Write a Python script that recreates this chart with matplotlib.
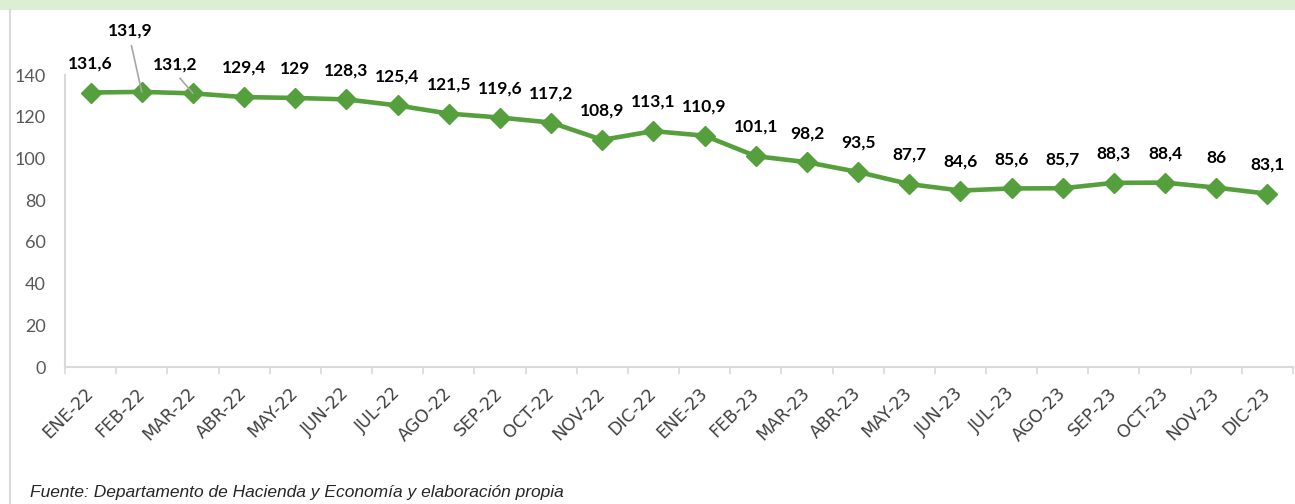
import matplotlib
matplotlib.use("Agg")
import matplotlib.pyplot as plt
from matplotlib.patches import Rectangle
from matplotlib.lines import Line2D

# month labels and index values
months = ["ENE-22", "FEB-22", "MAR-22", "ABR-22", "MAY-22", "JUN-22", "JUL-22", "AGO-22",
          "SEP-22", "OCT-22", "NOV-22", "DIC-22", "ENE-23", "FEB-23", "MAR-23", "ABR-23",
          "MAY-23", "JUN-23", "JUL-23", "AGO-23", "SEP-23", "OCT-23", "NOV-23", "DIC-23"]
values = [131.6, 131.9, 131.2, 129.4, 129, 128.3, 125.4, 121.5,
          119.6, 117.2, 108.9, 113.1, 110.9, 101.1, 98.2, 93.5,
          87.7, 84.6, 85.6, 85.7, 88.3, 88.4, 86, 83.1]
y_ticks = [0, 20, 40, 60, 80, 100, 120, 140]
source = "Fuente: Departamento de Hacienda y Economía y elaboración propia"

GREEN = "#55A03C"
BAND = "#DCEFD5"
AXIS_GREY = "#D9D9D9"

W, H = 1295, 504
fig = plt.figure(figsize=(W / 100, H / 100), dpi=100)

# light green band on top and grey frame line on the left
fig.patches.append(Rectangle((0, 1 - 10 / H), 1, 10 / H, transform=fig.transFigure,
                             facecolor=BAND, edgecolor="none", zorder=0))
fig.lines.append(Line2D([9.5 / W, 9.5 / W], [0, 1 - 10 / H], transform=fig.transFigure,
                        color=AXIS_GREY, linewidth=1.5))

ax = fig.add_axes([65 / W, 1 - 367 / H, (1293 - 65) / W, (367 - 75) / H])

x = list(range(len(months)))
ax.plot(x, values, color=GREEN, linewidth=3.3, marker="D", markersize=10,
        markerfacecolor=GREEN, markeredgecolor=GREEN, zorder=3)

ax.set_xlim(-0.5, len(months) - 0.5)
ax.set_ylim(0, 140)
ax.set_yticks(y_ticks)
ax.set_yticklabels([str(v) for v in y_ticks], fontsize=13, color="#595959", family="Lato")
ax.tick_params(axis="y", length=0, pad=14)

ax.set_xticks(x)
ax.set_xticklabels(months, rotation=45, ha="right", va="center", rotation_mode="anchor",
                   fontsize=12.5, color="#404040", family="DejaVu Sans")
ax.tick_params(axis="x", which="major", length=0, pad=17)
ax.set_xticks([i - 0.5 for i in range(len(months) + 1)], minor=True)
ax.tick_params(axis="x", which="minor", length=5, width=1.2, color=AXIS_GREY, direction="out")

for s in ["top", "right"]:
    ax.spines[s].set_visible(False)
for s in ["left", "bottom"]:
    ax.spines[s].set_color(AXIS_GREY)
    ax.spines[s].set_linewidth(1.5)

# data labels, two of them moved with a leader line like in the original
def fmt(v):
    return ("%g" % v).replace(".", ",")

for i, v in enumerate(values):
    if i == 1:
        ax.annotate(fmt(v), (i, v), xytext=(-8.5, 44), textcoords="offset points",
                    ha="center", va="center", fontsize=12.5, fontweight="bold", family="Lato",
                    arrowprops=dict(arrowstyle="-", color="#A6A6A6", lw=1.2, relpos=(0.5, 0),
                                    shrinkA=3, shrinkB=0))
    elif i == 2:
        ax.annotate(fmt(v), (i, v), xytext=(-13, 21), textcoords="offset points",
                    ha="center", va="center", fontsize=12.5, fontweight="bold", family="Lato",
                    arrowprops=dict(arrowstyle="-", color="#A6A6A6", lw=1.2, relpos=(0.5, 0),
                                    shrinkA=3, shrinkB=0))
    else:
        ax.annotate(fmt(v), (i, v), xytext=(0, 21), textcoords="offset points",
                    ha="center", va="center", fontsize=12.5, fontweight="bold", family="Lato")

fig.text(30 / W, 1 - 493 / H, source, ha="left", va="center", fontsize=12.5,
         style="italic", family="Liberation Sans", color="#262626")

fig.savefig("out.png", dpi=100, facecolor="white")
